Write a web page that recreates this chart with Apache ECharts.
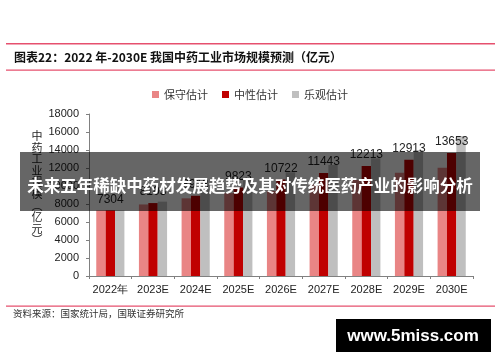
<!DOCTYPE html>
<html>
<head>
<meta charset="utf-8">
<script src="https://cdn.jsdelivr.net/npm/echarts@6/dist/echarts.min.js"></script>
<style>
html,body{margin:0;padding:0;background:#fff;}
#chart{width:500px;height:362px;}
</style>
</head>
<body>
<div id="chart"></div>
<script>
var categories = ['2022年', '2023E', '2024E', '2025E', '2026E', '2027E', '2028E', '2029E', '2030E'];
var conservative = [7304, 7950, 8630, 9200, 9450, 10180, 10670, 11480, 12040];
var neutral = [7304, 8103, 8913, 9823, 10722, 11443, 12213, 12913, 13653];
var optimistic = [7304, 8260, 9630, 10650, 11520, 12330, 13070, 14000, 15550];
var seriesNames = ['保守估计', '中性估计', '乐观估计'];
var yTicks = [0, 2000, 4000, 6000, 8000, 10000, 12000, 14000, 16000, 18000];

var chart = echarts.init(document.getElementById('chart'));
var lineColor = '#E6506E';
var latin = 'Liberation Sans, Arial, sans-serif';
var cjk = '"Noto Sans CJK SC", sans-serif';

chart.setOption({
  animation: false,
  backgroundColor: '#fff',
  color: ['#E98585', '#C00000', '#BFBFBF'],
  legend: {
    top: 84,
    left: 'center',
    icon: 'rect',
    itemWidth: 7,
    itemHeight: 7,
    itemGap: 14,
    textStyle: {fontFamily: cjk, fontSize: 11, color: '#333'},
    data: seriesNames
  },
  grid: {left: 89, right: 27, top: 114, bottom: 86},
  xAxis: {
    type: 'category',
    data: categories,
    axisLine: {lineStyle: {color: '#808080'}},
    axisTick: {show: true, length: 3, lineStyle: {color: '#808080'}},
    axisLabel: {interval: 0, fontFamily: latin, fontSize: 11, color: '#222', margin: 8}
  },
  yAxis: {
    type: 'value',
    min: yTicks[0],
    max: yTicks[yTicks.length - 1],
    interval: 2000,
    axisLine: {show: true, lineStyle: {color: '#808080'}},
    axisTick: {show: true, length: 3, lineStyle: {color: '#808080'}},
    splitLine: {show: false},
    axisLabel: {fontFamily: latin, fontSize: 11, color: '#222', margin: 10,
      formatter: function (v) { return String(v); }}
  },
  series: [
    {name: seriesNames[0], type: 'bar', data: conservative, barGap: '0%', barCategoryGap: '34%'},
    {name: seriesNames[1], type: 'bar', data: neutral, barGap: '0%', barCategoryGap: '34%',
     label: {show: true, position: 'top', distance: 5, fontFamily: latin, fontSize: 12, color: '#222'}},
    {name: seriesNames[2], type: 'bar', data: optimistic, barGap: '0%', barCategoryGap: '34%'}
  ],
  graphic: [
    {type: 'rect', shape: {x: 6, y: 43, width: 489, height: 1.5}, style: {fill: lineColor}, silent: true},
    {type: 'text', x: 14, y: 57, style: {text: '图表22：2022 年-2030E 我国中药工业市场规模预测（亿元）', fontFamily: cjk, fontWeight: 'bold', fontSize: 12, fill: '#111', textVerticalAlign: 'middle'}},
    {type: 'rect', shape: {x: 6, y: 69.5, width: 489, height: 1.2}, style: {fill: lineColor}, silent: true},
    {type: 'text', x: 37, y: 130, style: {text: '中\n药\n工\n业\n规\n模\n︵\n亿\n元\n︶', fontFamily: cjk, fontSize: 11, lineHeight: 11.6, fill: '#222', textAlign: 'center'}},
    {type: 'rect', shape: {x: 6, y: 305.5, width: 489, height: 1.2}, style: {fill: lineColor}, silent: true},
    {type: 'text', x: 13, y: 313, style: {text: '资料来源：国家统计局，国联证券研究所', fontFamily: cjk, fontSize: 9.5, fill: '#333', textVerticalAlign: 'middle'}},
    {type: 'rect', z: 100, shape: {x: 20, y: 152, width: 460, height: 59}, style: {fill: 'rgba(0,0,0,0.6)'}, silent: true},
    {type: 'text', z: 101, x: 250, y: 186, style: {text: '未来五年稀缺中药材发展趋势及其对传统医药产业的影响分析', fontFamily: cjk, fontWeight: 'bold', fontSize: 16.5, fill: '#fff', textAlign: 'center', textVerticalAlign: 'middle'}},
    {type: 'rect', z: 100, shape: {x: 336, y: 319, width: 155, height: 33}, style: {fill: '#000'}, silent: true},
    {type: 'text', z: 101, x: 413, y: 336, style: {text: 'www.5miss.com', fontFamily: latin, fontWeight: 'bold', fontSize: 17, fill: '#fff', textAlign: 'center', textVerticalAlign: 'middle'}}
  ]
});
</script>
</body>
</html>
